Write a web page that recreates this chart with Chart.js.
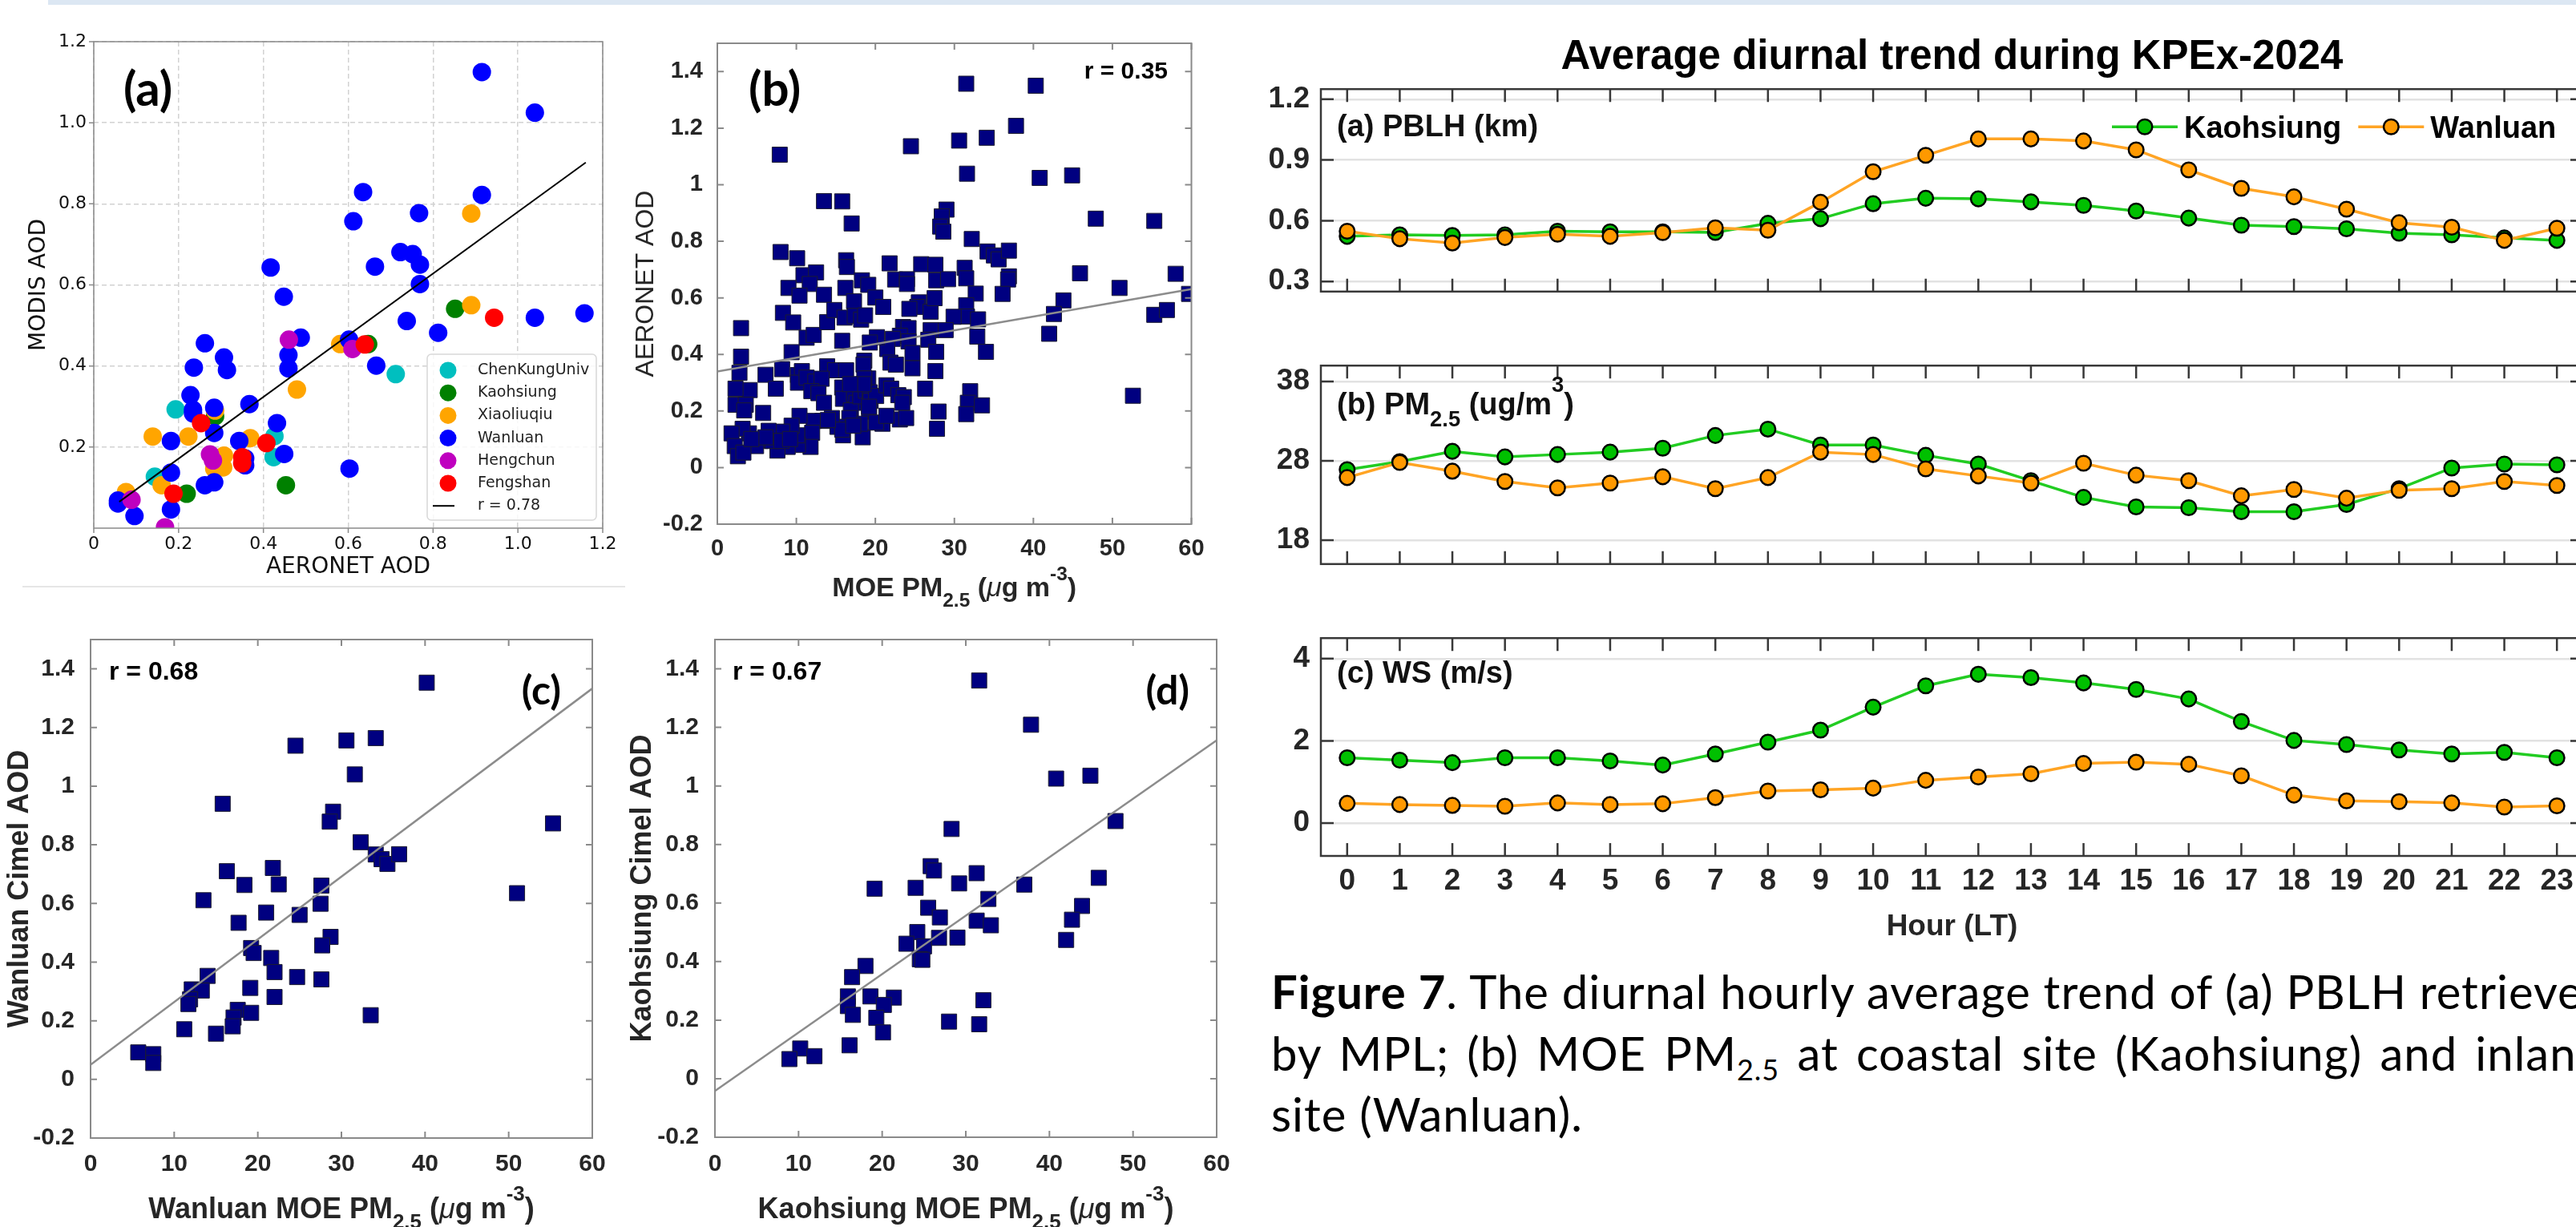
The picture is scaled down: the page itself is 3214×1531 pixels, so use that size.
<!DOCTYPE html>
<html>
<head>
<meta charset="utf-8">
<script src="https://cdn.jsdelivr.net/npm/chart.js@4.4.1/dist/chart.umd.min.js"></script>
<style>
html, body { margin: 0; padding: 0; width: 3214px; height: 1531px; overflow: hidden; background: #fff; }
canvas { position: absolute; }
#band { position: absolute; left: 60px; top: 0; width: 3154px; height: 6px; background: #dce7f3; }
#rule { position: absolute; left: 28px; top: 731px; width: 752px; height: 2px; background: #e6e6e6; }
#cap { position: absolute; left: 1586px; top: 1199px; width: 1662px; font: 58px Lato, sans-serif; letter-spacing: 1px; line-height: 76.5px; white-space: nowrap; color: #000; }
#cap .j { text-align: justify; text-align-last: justify; }
#cap sub { font-size: 0.62em; vertical-align: -0.32em; line-height: 0; }
</style>
</head>
<body>
<div id="band"></div>
<div id="rule"></div>
<canvas id="ca" width="780" height="745" style="left:0;top:0"></canvas>
<canvas id="cb" width="780" height="775" style="left:780px;top:0"></canvas>
<canvas id="cc" width="780" height="771" style="left:0;top:760px"></canvas>
<canvas id="cd" width="780" height="771" style="left:780px;top:760px"></canvas>
<canvas id="pbl" width="1700" height="400" style="left:1540px;top:0"></canvas>
<canvas id="pm" width="1700" height="320" style="left:1540px;top:420px"></canvas>
<canvas id="ws" width="1700" height="430" style="left:1540px;top:760px"></canvas>
<div id="cap">
<div class="j"><b>Figure 7</b>. The diurnal hourly average trend of (a) PBLH retrieved</div>
<div class="j">by MPL; (b) MOE PM<sub>2.5</sub> at coastal site (Kaohsiung) and inland</div>
<div>site (Wanluan).</div>
</div>
<script>
// ---- (a) MODIS vs AERONET AOD, by site ----
const aSites = ['ChenKungUniv', 'Kaohsiung', 'Xiaoliuqiu', 'Wanluan', 'Hengchun', 'Fengshan'];
const aColors = ['#00bfbf', '#008000', '#ffa500', '#0000ff', '#bf00bf', '#ff0000'];
const ckuX = [0.712, 0.193, 0.426, 0.424, 0.144];
const ckuY = [0.380, 0.293, 0.227, 0.175, 0.127];
const khX = [0.852, 0.647, 0.453, 0.219, 0.286];
const khY = [0.541, 0.454, 0.106, 0.085, 0.276];
const xlqX = [0.890, 0.890, 0.581, 0.479, 0.139, 0.223, 0.369, 0.307, 0.284, 0.305, 0.160, 0.076, 0.286];
const xlqY = [0.776, 0.550, 0.454, 0.342, 0.226, 0.226, 0.222, 0.179, 0.147, 0.150, 0.106, 0.089, 0.290];
const wlX = [0.915, 1.040, 0.635, 0.915, 0.612, 0.767, 0.417, 0.663, 0.723, 0.752, 0.769, 0.769, 0.448, 0.738, 0.812, 1.040,
  1.157, 0.488, 0.459, 0.459, 0.602, 0.666, 0.262, 0.307, 0.314, 0.236, 0.228, 0.234, 0.234, 0.284, 0.367, 0.284, 0.432,
  0.343, 0.449, 0.182, 0.182, 0.357, 0.357, 0.262, 0.284, 0.603, 0.057, 0.057, 0.096, 0.182];
const wlY = [1.125, 1.025, 0.829, 0.822, 0.757, 0.777, 0.643, 0.645, 0.681, 0.676, 0.650, 0.602, 0.571, 0.511, 0.482, 0.519,
  0.530, 0.470, 0.427, 0.394, 0.465, 0.401, 0.456, 0.421, 0.390, 0.396, 0.328, 0.292, 0.283, 0.297, 0.306, 0.235, 0.259,
  0.215, 0.183, 0.215, 0.137, 0.172, 0.155, 0.106, 0.113, 0.147, 0.068, 0.061, 0.030, 0.046];
const hcX = [0.460, 0.610, 0.274, 0.281, 0.089, 0.168];
const hcY = [0.465, 0.442, 0.182, 0.167, 0.070, 0.002];
const fsX = [0.944, 0.639, 0.253, 0.407, 0.350, 0.350, 0.188];
const fsY = [0.519, 0.453, 0.259, 0.210, 0.175, 0.160, 0.085];
const aFitX = [0.06, 1.16];
const aFitY = [0.065, 0.902];
const aXTicks = [0, 0.2, 0.4, 0.6, 0.8, 1.0, 1.2];
const aYTicks = [0.2, 0.4, 0.6, 0.8, 1.0, 1.2];

// ---- (b) AERONET AOD vs MOE PM2.5 ----
const bX = [31.5, 40.3, 37.8, 30.6, 34.1, 24.5, 7.9, 31.6, 40.8, 44.9, 13.5, 15.8, 17.0, 47.9, 55.3, 29.0, 28.4, 28.2, 28.6, 32.2,
  8.0, 10.1, 34.2, 35.0, 35.6, 36.9, 16.3, 16.4, 21.8, 25.8, 27.6, 27.7, 31.3, 31.5, 29.2, 36.9, 36.8, 45.9, 58.0, 50.9,
  59.7, 43.8, 42.6, 42.0, 55.3, 56.9, 10.9, 12.5, 11.7, 9.0, 10.4, 13.5, 18.3, 19.1, 16.2, 17.3, 20.0, 21.0, 22.5, 24.0,
  24.0, 25.5, 25.3, 24.3, 27.0, 27.5, 32.7, 36.1, 31.5, 31.6, 33.0, 32.9, 34.0, 29.9, 28.9, 27.0, 26.7, 27.7, 27.6, 26.3,
  23.5, 24.2, 23.1, 24.2, 24.7, 24.7, 22.2, 21.5, 21.9, 22.6, 20.2, 19.3, 18.6, 18.5, 8.3, 9.6, 9.4, 8.2, 11.3, 12.2,
  13.9, 14.8, 16.1, 17.4, 18.2, 18.7, 15.8, 3.0, 3.0, 2.8, 6.1, 7.4, 4.1, 2.3, 2.3, 3.6, 3.4, 5.8, 13.9, 14.9,
  16.3, 10.2, 10.7, 10.2, 11.3, 12.4, 13.2, 11.9, 12.8, 13.5, 15.8, 15.9, 17.3, 17.6, 16.9, 18.1, 18.8, 19.1, 19.3, 19.4,
  20.1, 21.4, 22.0, 22.9, 23.6, 23.4, 23.1, 23.9, 19.2, 28.0, 27.8, 32.0, 31.7, 31.5, 33.5, 52.6, 18.4, 20.9, 20.1, 18.1,
  16.7, 15.9, 15.2, 14.5, 13.3, 12.2, 12.0, 10.4, 11.8, 10.2, 10.1, 9.4, 8.2, 8.9, 7.6, 6.5, 5.5, 4.9, 4.0, 3.2,
  1.8, 2.2, 2.6, 3.3, 7.0, 8.1, 9.2, 6.1, 4.3, 15.8, 14.0, 17.2, 21.4, 18.6, 18.5, 19.2, 16.8];
const bY = [1.357, 1.350, 1.208, 1.156, 1.166, 1.136, 1.106, 1.039, 1.024, 1.033, 0.942, 0.941, 0.863, 0.880, 0.872, 0.912, 0.888, 0.852, 0.834, 0.808,
  0.762, 0.740, 0.764, 0.750, 0.736, 0.767, 0.733, 0.709, 0.722, 0.719, 0.717, 0.662, 0.706, 0.669, 0.666, 0.676, 0.665, 0.687, 0.685, 0.635,
  0.614, 0.591, 0.543, 0.473, 0.540, 0.557, 0.680, 0.690, 0.649, 0.635, 0.608, 0.611, 0.662, 0.646, 0.635, 0.588, 0.601, 0.568, 0.665, 0.666,
  0.649, 0.584, 0.568, 0.561, 0.551, 0.599, 0.615, 0.614, 0.574, 0.534, 0.524, 0.463, 0.409, 0.533, 0.486, 0.486, 0.452, 0.409, 0.341, 0.279,
  0.497, 0.493, 0.466, 0.446, 0.405, 0.351, 0.455, 0.419, 0.371, 0.364, 0.461, 0.442, 0.378, 0.364, 0.547, 0.513, 0.408, 0.348, 0.459, 0.469,
  0.514, 0.557, 0.530, 0.536, 0.523, 0.538, 0.448, 0.493, 0.392, 0.335, 0.328, 0.279, 0.274, 0.279, 0.222, 0.222, 0.202, 0.193, 0.358, 0.344,
  0.344, 0.327, 0.341, 0.300, 0.318, 0.304, 0.314, 0.270, 0.263, 0.229, 0.283, 0.243, 0.259, 0.229, 0.202, 0.252, 0.272, 0.315, 0.266, 0.236,
  0.253, 0.291, 0.279, 0.256, 0.249, 0.229, 0.170, 0.175, 0.198, 0.198, 0.137, 0.270, 0.229, 0.189, 0.220, 0.254, 0.107, 0.155, 0.159, 0.155,
  0.175, 0.114, 0.144, 0.175, 0.165, 0.165, 0.123, 0.183, 0.073, 0.080, 0.114, 0.148, 0.127, 0.073, 0.060, 0.130, 0.094, 0.076, 0.121, 0.137,
  0.121, 0.076, 0.040, 0.053, 0.094, 0.094, 0.101, 0.107, 0.101, 0.134, 0.168, 0.148, 0.183, 0.315, 0.295, 0.215, 0.295];
const bFitX = [0, 60];
const bFitY = [0.340, 0.631];

// ---- (c) Wanluan Cimel AOD vs PM2.5 ----
const cX = [40.2, 24.5, 30.6, 34.1, 31.6, 15.8, 29.0, 28.6, 55.3, 32.3, 34.1, 34.8, 35.5, 36.9, 16.3, 21.8, 22.5, 18.4, 27.6, 27.5,
  51.0, 13.5, 21.0, 25.0, 17.7, 28.7, 27.7, 19.2, 19.5, 21.6, 22.0, 14.0, 24.7, 27.6, 12.1, 13.3, 19.1, 11.9, 11.7, 22.0,
  33.5, 17.6, 19.2, 17.1, 17.0, 11.2, 15.0, 5.7, 7.5, 7.5];
const cY = [1.353, 1.138, 1.156, 1.164, 1.040, 0.940, 0.913, 0.879, 0.873, 0.809, 0.767, 0.751, 0.735, 0.768, 0.710, 0.721, 0.665, 0.663, 0.661, 0.599,
  0.635, 0.611, 0.569, 0.561, 0.534, 0.486, 0.457, 0.448, 0.431, 0.414, 0.366, 0.353, 0.349, 0.341, 0.307, 0.303, 0.312, 0.273, 0.257, 0.281,
  0.219, 0.237, 0.227, 0.211, 0.181, 0.171, 0.156, 0.092, 0.086, 0.056];
const cFitX = [0, 60];
const cFitY = [0.050, 1.333];

// ---- (d) Kaohsiung Cimel AOD vs PM2.5 ----
const dX = [31.6, 37.8, 40.8, 44.9, 47.9, 28.3, 25.8, 26.2, 31.3, 29.2, 37.0, 45.9, 19.1, 24.0, 32.7, 25.5, 43.9, 26.9, 42.7, 31.3,
  33.0, 24.2, 22.9, 25.0, 26.8, 29.0, 42.0, 24.5, 24.8, 18.0, 16.4, 15.9, 15.9, 18.6, 21.4, 20.2, 16.5, 19.3, 20.1, 28.0,
  32.1, 31.6, 16.1, 10.2, 8.9, 11.9];
const dY = [1.360, 1.209, 1.025, 1.035, 0.880, 0.853, 0.726, 0.711, 0.702, 0.667, 0.663, 0.686, 0.649, 0.652, 0.614, 0.584, 0.590, 0.551, 0.543, 0.540,
  0.524, 0.501, 0.461, 0.452, 0.481, 0.482, 0.474, 0.408, 0.406, 0.385, 0.347, 0.281, 0.248, 0.281, 0.277, 0.252, 0.218, 0.208, 0.158, 0.195,
  0.268, 0.186, 0.114, 0.103, 0.067, 0.077];
const dFitX = [0, 60];
const dFitY = [-0.042, 1.156];

const pmTicks = [0, 10, 20, 30, 40, 50, 60];
const aodTicks = [-0.2, 0, 0.2, 0.4, 0.6, 0.8, 1, 1.2, 1.4];

// ---- diurnal panels ----
const hours = ['0', '1', '2', '3', '4', '5', '6', '7', '8', '9', '10', '11', '12', '13', '14', '15', '16', '17', '18', '19', '20', '21', '22', '23'];
const pblKh = [0.523, 0.530, 0.527, 0.530, 0.548, 0.545, 0.545, 0.542, 0.587, 0.610, 0.684, 0.711, 0.708, 0.693, 0.676, 0.648, 0.613, 0.578, 0.571, 0.560, 0.538, 0.530, 0.515, 0.503];
const pblWl = [0.548, 0.511, 0.490, 0.517, 0.533, 0.523, 0.541, 0.565, 0.553, 0.691, 0.842, 0.923, 1.004, 1.004, 0.994, 0.950, 0.851, 0.760, 0.718, 0.657, 0.590, 0.568, 0.503, 0.563];
const pmKh = [26.9, 27.9, 29.2, 28.5, 28.8, 29.1, 29.6, 31.2, 32.0, 30.0, 30.0, 28.7, 27.6, 25.5, 23.4, 22.2, 22.1, 21.6, 21.6, 22.5, 24.5, 27.1, 27.6, 27.5];
const pmWl = [25.9, 27.8, 26.7, 25.4, 24.6, 25.2, 26.0, 24.5, 25.9, 29.1, 28.8, 27.0, 26.1, 25.2, 27.7, 26.2, 25.5, 23.6, 24.4, 23.3, 24.3, 24.5, 25.4, 24.9];
const wsKh = [1.59, 1.53, 1.47, 1.59, 1.59, 1.51, 1.41, 1.68, 1.97, 2.26, 2.82, 3.34, 3.62, 3.54, 3.41, 3.25, 3.02, 2.47, 2.01, 1.91, 1.78, 1.68, 1.72, 1.59];
const wsWl = [0.48, 0.45, 0.43, 0.41, 0.49, 0.45, 0.47, 0.62, 0.78, 0.81, 0.85, 1.04, 1.12, 1.20, 1.45, 1.48, 1.43, 1.15, 0.68, 0.54, 0.52, 0.49, 0.39, 0.42];
const pblTicks = [0.3, 0.6, 0.9, 1.2];
const pmRTicks = [18, 28, 38];
const wsTicks = [0, 2, 4];

const MAT = '"Liberation Sans", Arial, sans-serif';
const MPL = '"DejaVu Sans", sans-serif';
const CAL = 'Lato, sans-serif';
const INK = '#262626';
const NAVY = '#000080';

const pts = (xs, ys) => xs.map((x, i) => ({x: x, y: ys[i]}));
const fixTicks = list => s => { s.ticks = list.map(v => ({value: v})); };

// box around the plot area + tick marks (inward for the matlab panels)
const frame = {
  id: 'frame',
  afterDatasetsDraw(chart, args, o) {
    const {ctx, chartArea: a, scales: {x, y}} = chart;
    const s = o.sides || '', t = o.tick || 0, d = o.outside ? -1 : 1;
    ctx.save();
    ctx.strokeStyle = o.color;
    ctx.lineWidth = o.width;
    ctx.beginPath();
    x.ticks.forEach((tk, i) => {
      const p = x.getPixelForTick(i);
      if (s.includes('b')) { ctx.moveTo(p, a.bottom); ctx.lineTo(p, a.bottom - d * t); }
      if (s.includes('t')) { ctx.moveTo(p, a.top); ctx.lineTo(p, a.top + d * t); }
    });
    y.ticks.forEach((tk, i) => {
      const p = y.getPixelForTick(i);
      if (s.includes('l')) { ctx.moveTo(a.left, p); ctx.lineTo(a.left + d * t, p); }
      if (s.includes('r')) { ctx.moveTo(a.right, p); ctx.lineTo(a.right - d * t, p); }
    });
    ctx.stroke();
    ctx.strokeRect(a.left, a.top, a.right - a.left, a.bottom - a.top);
    ctx.restore();
  }
};

// text with sub/superscripts, placed relative to the plot area
const texts = {
  id: 'texts',
  afterDraw(chart, args, o) {
    const {ctx, chartArea: a} = chart;
    (o.items || []).forEach(it => {
      const size = it.size, fam = it.family || MAT, wt = it.weight || 'bold';
      const parts = typeof it.text === 'string' ? [{t: it.text}] : it.text;
      const runs = parts.map(r => {
        const small = r.sub || r.sup;
        const fs = small ? size * 0.72 : size;
        return {t: r.t, font: (r.it ? 'italic ' : '') + (r.wt || wt) + ' ' + fs + 'px ' + fam,
          dy: r.sub ? size * (it.subDy || 0.38) : r.sup ? -size * (it.supDy || 0.6) : 0};
      });
      let w = 0;
      runs.forEach(r => { ctx.font = r.font; r.w = ctx.measureText(r.t).width; w += r.w; });
      const y = (it.from === 'bottom' ? a.bottom : a.top) + it.dy;
      let x;
      if (it.align === 'center') x = (a.left + a.right) / 2 - w / 2;
      else if (it.align === 'right') x = a.right + it.dx - w;
      else x = a.left + it.dx;
      ctx.save();
      ctx.fillStyle = it.color || '#000';
      ctx.textBaseline = 'alphabetic';
      ctx.textAlign = 'left';
      runs.forEach(r => { ctx.font = r.font; ctx.fillText(r.t, x, y + r.dy); x += r.w; });
      ctx.restore();
    });
  }
};

// matplotlib style legend box (panel a)
const boxLegend = {
  id: 'boxLegend',
  afterDraw(chart, args, o) {
    if (!o.w) return;
    const {ctx, chartArea: a} = chart;
    const L = a.right - o.right - o.w, T = a.bottom - o.bottom - o.h;
    ctx.save();
    ctx.fillStyle = 'rgba(255,255,255,0.85)';
    ctx.strokeStyle = '#d8d8d8';
    ctx.lineWidth = 1.5;
    ctx.beginPath();
    ctx.roundRect(L, T, o.w, o.h, 5);
    ctx.fill();
    ctx.stroke();
    ctx.font = o.size + 'px ' + MPL;
    ctx.textBaseline = 'middle';
    chart.data.datasets.forEach((ds, i) => {
      const y = T + o.first + i * o.row;
      if (ds.showLine) {
        ctx.strokeStyle = ds.borderColor;
        ctx.lineWidth = ds.borderWidth;
        ctx.beginPath();
        ctx.moveTo(L + o.mx - 19, y);
        ctx.lineTo(L + o.mx + 8, y);
        ctx.stroke();
      } else {
        ctx.fillStyle = ds.pointBackgroundColor;
        ctx.beginPath();
        ctx.arc(L + o.mx, y, o.r, 0, Math.PI * 2);
        ctx.fill();
      }
      ctx.fillStyle = '#222';
      ctx.fillText(ds.label, L + o.tx, y);
    });
    ctx.restore();
  }
};

// matlab style horizontal legend (top diurnal panel)
const lineLegend = {
  id: 'lineLegend',
  afterDraw(chart, args, o) {
    if (!o.size) return;
    const {ctx, chartArea: a} = chart;
    let x = a.right + o.dx;
    const y = a.top + o.dy;
    ctx.save();
    ctx.font = 'bold ' + o.size + 'px ' + MAT;
    chart.data.datasets.forEach(ds => {
      ctx.strokeStyle = ds.borderColor;
      ctx.lineWidth = ds.borderWidth;
      ctx.beginPath();
      ctx.moveTo(x, y);
      ctx.lineTo(x + o.len, y);
      ctx.stroke();
      ctx.beginPath();
      ctx.arc(x + o.len / 2, y, ds.pointRadius, 0, Math.PI * 2);
      ctx.fillStyle = ds.pointBackgroundColor;
      ctx.fill();
      ctx.lineWidth = ds.pointBorderWidth;
      ctx.strokeStyle = ds.pointBorderColor;
      ctx.stroke();
      x += o.len + o.gap;
      ctx.fillStyle = '#000';
      ctx.textBaseline = 'alphabetic';
      ctx.fillText(ds.label, x, y + o.size * 0.36);
      x += ctx.measureText(ds.label).width + o.space;
    });
    ctx.restore();
  }
};

const common = {responsive: false, animation: false, devicePixelRatio: 1, events: []};

// (a)
const aXs = [ckuX, khX, xlqX, wlX, hcX, fsX];
const aYs = [ckuY, khY, xlqY, wlY, hcY, fsY];
new Chart(document.getElementById('ca'), {
  type: 'scatter',
  data: {
    datasets: aSites.map((s, k) => ({
      label: s, data: pts(aXs[k], aYs[k]), pointBackgroundColor: aColors[k], backgroundColor: aColors[k],
      pointRadius: 11.5, pointBorderWidth: 0, order: 6 - k, clip: 0
    })).concat([{
      label: 'r = 0.78', data: pts(aFitX, aFitY), showLine: true, borderColor: '#000', borderWidth: 2,
      pointRadius: 0, order: 0
    }])
  },
  plugins: [frame, texts, boxLegend],
  options: Object.assign({}, common, {
    layout: {padding: {top: 52, right: 28}},
    plugins: {
      legend: {display: false}, tooltip: {enabled: false},
      frame: {color: '#8a8a8a', width: 1.5, tick: 6, sides: 'bl', outside: true},
      texts: {items: [{text: '(a)', size: 60, family: CAL, dx: 37, dy: 80}]},
      boxLegend: {w: 211, h: 207, right: 8, bottom: 10, first: 20, row: 28.2, mx: 26, tx: 63, r: 10.5, size: 19}
    },
    scales: {
      x: {
        type: 'linear', min: 0, max: 1.2, afterBuildTicks: fixTicks(aXTicks), afterFit: s => { s.height = 86; },
        grid: {color: '#d2d2d2', lineWidth: 1.5, drawTicks: false}, border: {display: false, dash: [6, 4]},
        ticks: {font: {family: MPL, size: 22}, color: '#111', padding: 7, maxRotation: 0, autoSkip: false,
          callback: v => v === 0 ? '0' : v.toFixed(1)},
        title: {display: true, text: 'AERONET AOD', font: {family: MPL, size: 28}, color: '#111', padding: {top: 0, bottom: 20}}
      },
      y: {
        min: 0, max: 1.2, afterBuildTicks: fixTicks(aYTicks), afterFit: s => { s.width = 117; },
        grid: {color: '#d2d2d2', lineWidth: 1.5, drawTicks: false}, border: {display: false, dash: [6, 4]},
        ticks: {font: {family: MPL, size: 22}, color: '#111', padding: 9, autoSkip: false, callback: v => v.toFixed(1)},
        title: {display: true, text: 'MODIS AOD', font: {family: MPL, size: 28}, color: '#111', padding: {top: 32, bottom: 0}}
      }
    }
  })
});

// (b), (c), (d)
const pmTitle = site => [{t: site + 'MOE PM'}, {t: '2.5', sub: true}, {t: ' ('}, {t: 'μ', it: true, wt: 'normal'},
  {t: 'g m'}, {t: '-3', sup: true}, {t: ')'}];

function matScatter(id, xs, ys, fx, fy, o) {
  new Chart(document.getElementById(id), {
    type: 'scatter',
    data: {
      datasets: [
        {label: 'AOD', data: pts(xs, ys), pointStyle: 'rect', pointRadius: 13.4, pointBackgroundColor: NAVY,
          pointBorderColor: '#1c1c30', pointBorderWidth: 1, order: 1},
        {label: 'fit', data: pts(fx, fy), showLine: true, borderColor: '#8c8c8c', borderWidth: 2.5, pointRadius: 0, order: 0}
      ]
    },
    plugins: [frame, texts],
    options: Object.assign({}, common, {
      layout: {padding: {top: o.pt, right: o.pr}},
      plugins: {
        legend: {display: false}, tooltip: {enabled: false},
        frame: {color: '#8a8a8a', width: 2, tick: 8, sides: 'bltr'},
        texts: {items: o.texts}
      },
      scales: {
        x: {
          type: 'linear', min: 0, max: 60, afterBuildTicks: fixTicks(pmTicks), afterFit: s => { s.height = o.hx; },
          grid: {display: false, drawTicks: false}, border: {display: false},
          ticks: {font: {family: MAT, size: o.tick, weight: 'bold'}, color: INK, padding: o.xp, maxRotation: 0, autoSkip: false}
        },
        y: {
          min: -0.2, max: 1.5, afterBuildTicks: fixTicks(aodTicks), afterFit: s => { s.width = o.wy; },
          grid: {display: false, drawTicks: false}, border: {display: false},
          ticks: {font: {family: MAT, size: o.tick, weight: 'bold'}, color: INK, padding: o.yp, autoSkip: false,
            callback: v => String(Math.round(v * 10) / 10)},
          title: {display: true, text: o.ytitle, font: {family: MAT, size: o.ysize, weight: o.yweight}, color: INK,
            padding: {top: o.ytp, bottom: 0}}
        }
      }
    })
  });
}

matScatter('cb', bX, bY, bFitX, bFitY, {
  pt: 54, pr: 73.5, hx: 121, wy: 115, tick: 29, xp: 13.6, yp: 18,
  ytitle: 'AERONET AOD', ysize: 32, yweight: 'normal', ytp: 6.8,
  texts: [
    {text: '(b)', size: 60, family: CAL, dx: 39, dy: 78},
    {text: 'r = 0.35', size: 30, align: 'right', dx: -29.5, dy: 44},
    {text: pmTitle(''), size: 34, align: 'center', from: 'bottom', dy: 90, color: INK}
  ]
});
matScatter('cc', cX, cY, cFitX, cFitY, {
  pt: 25, pr: 41, hx: 111, wy: 113, tick: 30, xp: 15, yp: 20,
  ytitle: 'Wanluan Cimel AOD', ysize: 36, yweight: 'bold', ytp: 3.4,
  texts: [
    {text: '(c)', size: 50, family: CAL, align: 'right', dx: -39, dy: 80.5},
    {text: 'r = 0.68', size: 32, dx: 23, dy: 50},
    {text: pmTitle('Wanluan '), size: 36, align: 'center', from: 'bottom', dy: 99.5, color: INK}
  ]
});
matScatter('cd', dX, dY, dFitX, dFitY, {
  pt: 25, pr: 42, hx: 112, wy: 112, tick: 30, xp: 16, yp: 20,
  ytitle: 'Kaohsiung Cimel AOD', ysize: 36, yweight: 'bold', ytp: 0.4,
  texts: [
    {text: '(d)', size: 50, family: CAL, align: 'right', dx: -34, dy: 80.5},
    {text: 'r = 0.67', size: 32, dx: 22, dy: 50},
    {text: pmTitle('Kaohsiung '), size: 36, align: 'center', from: 'bottom', dy: 100.5, color: INK}
  ]
});

// diurnal trend panels
function diurnal(id, kh, wl, lo, hi, yt, dec, o) {
  new Chart(document.getElementById(id), {
    type: 'line',
    data: {
      labels: hours,
      datasets: [
        {label: 'Kaohsiung', data: kh, borderColor: '#22cc22', borderWidth: 3.5, pointRadius: 9.3,
          pointBackgroundColor: '#00c000', pointBorderColor: '#000', pointBorderWidth: 2.5, order: 1},
        {label: 'Wanluan', data: wl, borderColor: '#ffa424', borderWidth: 3.5, pointRadius: 9.3,
          pointBackgroundColor: '#ff9900', pointBorderColor: '#000', pointBorderWidth: 2.5, order: 0}
      ]
    },
    plugins: [frame, texts, lineLegend],
    options: Object.assign({}, common, {
      layout: {padding: {top: o.pt, right: 17}},
      plugins: {
        legend: {display: false}, tooltip: {enabled: false},
        title: o.title ? {display: true, text: o.title, fullSize: false, font: {family: MAT, size: 51, weight: 'bold'},
          color: '#000', padding: {top: 41, bottom: 9}} : {display: false},
        frame: {color: '#383838', width: 2.5, tick: 16, sides: 'bltr'},
        texts: {items: [o.label]},
        lineLegend: o.legend || {}
      },
      scales: {
        x: {
          type: 'category', offset: true, afterFit: s => { s.height = o.hx; },
          grid: {display: false, drawTicks: false}, border: {display: false},
          ticks: {display: !!o.xlab, font: {family: MAT, size: 37, weight: 'bold'}, color: INK, padding: 10,
            maxRotation: 0, autoSkip: false},
          title: {display: !!o.xlab, text: 'Hour (LT)', font: {family: MAT, size: 37, weight: 'bold'}, color: INK,
            padding: {top: 0, bottom: 11}}
        },
        y: {
          min: lo, max: hi, afterBuildTicks: fixTicks(yt), afterFit: s => { s.width = 108; },
          grid: {color: '#e2e2e2', lineWidth: 2.5, drawTicks: false}, border: {display: false},
          ticks: {font: {family: MAT, size: 37, weight: 'bold'}, color: INK, padding: 14, autoSkip: false,
            callback: v => v.toFixed(dec)}
        }
      }
    })
  });
}

diurnal('pbl', pblKh, pblWl, 0.25, 1.25, pblTicks, 1, {
  pt: 0, hx: 9, title: 'Average diurnal trend during KPEx-2024',
  label: {text: '(a) PBLH (km)', size: 38, dx: 20, dy: 59, color: '#111'},
  legend: {size: 38, dx: -588, dy: 47, len: 82, gap: 8, space: 21}
});
diurnal('pm', pmKh, pmWl, 15, 40, pmRTicks, 0, {
  pt: 29, hx: 12,
  label: {text: [{t: '(b) PM'}, {t: '2.5', sub: true}, {t: ' (ug/m'}, {t: '3', sup: true}, {t: ')'}],
    size: 38, dx: 20, dy: 61, subDy: 0.39, supDy: 0.74, color: '#111'}
});
diurnal('ws', wsKh, wsWl, -0.8, 4.5, wsTicks, 0, {
  pt: 27.5, hx: 122, xlab: true,
  label: {text: '(c) WS (m/s)', size: 38, dx: 20, dy: 56, color: '#111'}
});
</script>
</body>
</html>
